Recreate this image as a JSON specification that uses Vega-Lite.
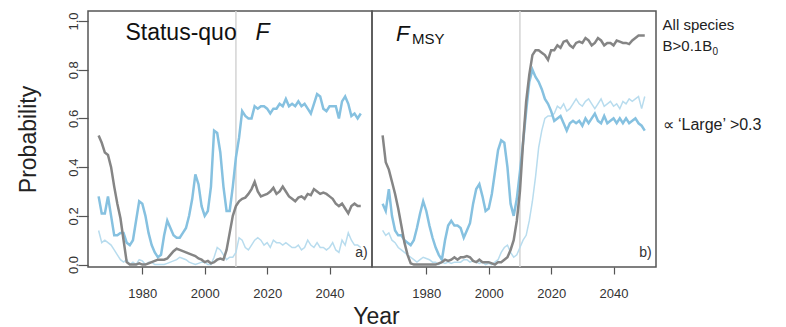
{
  "$schema": "https://vega.github.io/schema/vega-lite/v6.json",
  "background": "white",
  "padding": {"left": 16, "top": 9, "right": 0, "bottom": 0},
  "spacing": 0,
  "bounds": "flush",
  "config": {
    "font": "Liberation Sans",
    "view": {"stroke": "#555555", "strokeWidth": 1.5},
    "concat": {"spacing": 0},
    "axis": {"grid": false, "domain": false, "tickColor": "#555555", "tickWidth": 1.2, "labelFontSize": 13, "labelColor": "#333333", "labelFont": "Liberation Sans", "titleFont": "Liberation Sans", "titleFontWeight": "normal", "titleColor": "#222222"}
  },
  "datasets": {
    "d": [
      {"year":1966,"ag":0.53,"am":0.28,"al":0.14,"bg":0.53,"bm":0.25,"bl":0.14},
      {"year":1967,"ag":0.50,"am":0.21,"al":0.09,"bg":0.42,"bm":0.22,"bl":0.12},
      {"year":1968,"ag":0.46,"am":0.21,"al":0.10,"bg":0.39,"bm":0.31,"bl":0.13},
      {"year":1969,"ag":0.45,"am":0.28,"al":0.09,"bg":0.34,"bm":0.20,"bl":0.10},
      {"year":1970,"ag":0.40,"am":0.20,"al":0.08,"bg":0.29,"bm":0.14,"bl":0.09},
      {"year":1971,"ag":0.32,"am":0.12,"al":0.06,"bg":0.23,"bm":0.12,"bl":0.07},
      {"year":1972,"ag":0.25,"am":0.12,"al":0.04,"bg":0.16,"bm":0.12,"bl":0.06},
      {"year":1973,"ag":0.19,"am":0.13,"al":0.02,"bg":0.09,"bm":0.10,"bl":0.05},
      {"year":1974,"ag":0.10,"am":0.13,"al":0.01,"bg":0.04,"bm":0.09,"bl":0.04},
      {"year":1975,"ag":0.01,"am":0.09,"al":0.02,"bg":0.005,"bm":0.08,"bl":0.03},
      {"year":1976,"ag":0.0,"am":0.08,"al":0.0,"bg":0.0,"bm":0.10,"bl":0.02},
      {"year":1977,"ag":0.0,"am":0.10,"al":0.01,"bg":0.0,"bm":0.15,"bl":0.01},
      {"year":1978,"ag":0.0,"am":0.18,"al":0.0,"bg":0.0,"bm":0.21,"bl":0.02},
      {"year":1979,"ag":0.005,"am":0.26,"al":0.02,"bg":0.0,"bm":0.26,"bl":0.03},
      {"year":1980,"ag":0.0,"am":0.25,"al":0.015,"bg":0.0,"bm":0.22,"bl":0.025},
      {"year":1981,"ag":0.0,"am":0.20,"al":0.0,"bg":0.0,"bm":0.16,"bl":0.02},
      {"year":1982,"ag":0.005,"am":0.13,"al":0.01,"bg":0.0,"bm":0.11,"bl":0.01},
      {"year":1983,"ag":0.01,"am":0.08,"al":0.01,"bg":0.0,"bm":0.07,"bl":0.01},
      {"year":1984,"ag":0.015,"am":0.05,"al":0.0,"bg":0.005,"bm":0.04,"bl":0.0},
      {"year":1985,"ag":0.02,"am":0.03,"al":0.0,"bg":0.01,"bm":0.02,"bl":0.01},
      {"year":1986,"ag":0.02,"am":0.04,"al":0.0,"bg":0.02,"bm":0.10,"bl":0.005},
      {"year":1987,"ag":0.02,"am":0.12,"al":0.0,"bg":0.015,"bm":0.16,"bl":0.01},
      {"year":1988,"ag":0.025,"am":0.18,"al":0.005,"bg":0.02,"bm":0.18,"bl":0.005},
      {"year":1989,"ag":0.04,"am":0.15,"al":0.01,"bg":0.03,"bm":0.16,"bl":0.01},
      {"year":1990,"ag":0.055,"am":0.12,"al":0.015,"bg":0.02,"bm":0.16,"bl":0.01},
      {"year":1991,"ag":0.065,"am":0.11,"al":0.02,"bg":0.03,"bm":0.15,"bl":0.01},
      {"year":1992,"ag":0.06,"am":0.11,"al":0.03,"bg":0.03,"bm":0.11,"bl":0.02},
      {"year":1993,"ag":0.055,"am":0.13,"al":0.025,"bg":0.035,"bm":0.14,"bl":0.02},
      {"year":1994,"ag":0.05,"am":0.15,"al":0.02,"bg":0.03,"bm":0.17,"bl":0.01},
      {"year":1995,"ag":0.045,"am":0.20,"al":0.01,"bg":0.015,"bm":0.25,"bl":0.015},
      {"year":1996,"ag":0.04,"am":0.27,"al":0.005,"bg":0.01,"bm":0.31,"bl":0.01},
      {"year":1997,"ag":0.035,"am":0.37,"al":0.0,"bg":0.02,"bm":0.33,"bl":0.005},
      {"year":1998,"ag":0.025,"am":0.33,"al":0.005,"bg":0.01,"bm":0.28,"bl":0.01},
      {"year":1999,"ag":0.02,"am":0.24,"al":0.01,"bg":0.01,"bm":0.22,"bl":0.0},
      {"year":2000,"ag":0.01,"am":0.20,"al":0.01,"bg":0.01,"bm":0.23,"bl":0.005},
      {"year":2001,"ag":0.015,"am":0.22,"al":0.0,"bg":0.005,"bm":0.29,"bl":0.0},
      {"year":2002,"ag":0.005,"am":0.32,"al":0.0,"bg":0.0,"bm":0.38,"bl":0.01},
      {"year":2003,"ag":0.01,"am":0.55,"al":0.03,"bg":0.01,"bm":0.47,"bl":0.02},
      {"year":2004,"ag":0.02,"am":0.54,"al":0.07,"bg":0.01,"bm":0.51,"bl":0.05},
      {"year":2005,"ag":0.025,"am":0.46,"al":0.06,"bg":0.02,"bm":0.50,"bl":0.07},
      {"year":2006,"ag":0.02,"am":0.32,"al":0.04,"bg":0.03,"bm":0.40,"bl":0.08},
      {"year":2007,"ag":0.06,"am":0.22,"al":0.02,"bg":0.06,"bm":0.25,"bl":0.05},
      {"year":2008,"ag":0.13,"am":0.22,"al":0.03,"bg":0.10,"bm":0.20,"bl":0.03},
      {"year":2009,"ag":0.20,"am":0.32,"al":0.03,"bg":0.18,"bm":0.27,"bl":0.04},
      {"year":2010,"ag":0.24,"am":0.44,"al":0.05,"bg":0.30,"bm":0.38,"bl":0.07},
      {"year":2011,"ag":0.26,"am":0.52,"al":0.11,"bg":0.50,"bm":0.50,"bl":0.10},
      {"year":2012,"ag":0.27,"am":0.63,"al":0.10,"bg":0.67,"bm":0.63,"bl":0.12},
      {"year":2013,"ag":0.275,"am":0.61,"al":0.07,"bg":0.78,"bm":0.75,"bl":0.18},
      {"year":2014,"ag":0.29,"am":0.60,"al":0.06,"bg":0.86,"bm":0.80,"bl":0.26},
      {"year":2015,"ag":0.31,"am":0.60,"al":0.08,"bg":0.88,"bm":0.77,"bl":0.36},
      {"year":2016,"ag":0.34,"am":0.65,"al":0.10,"bg":0.88,"bm":0.75,"bl":0.48},
      {"year":2017,"ag":0.30,"am":0.64,"al":0.11,"bg":0.87,"bm":0.72,"bl":0.55},
      {"year":2018,"ag":0.28,"am":0.65,"al":0.10,"bg":0.86,"bm":0.68,"bl":0.60},
      {"year":2019,"ag":0.285,"am":0.65,"al":0.08,"bg":0.84,"bm":0.66,"bl":0.61},
      {"year":2020,"ag":0.29,"am":0.64,"al":0.09,"bg":0.88,"bm":0.63,"bl":0.61},
      {"year":2021,"ag":0.30,"am":0.62,"al":0.07,"bg":0.88,"bm":0.59,"bl":0.62},
      {"year":2022,"ag":0.315,"am":0.64,"al":0.10,"bg":0.90,"bm":0.60,"bl":0.65},
      {"year":2023,"ag":0.29,"am":0.64,"al":0.09,"bg":0.89,"bm":0.61,"bl":0.64},
      {"year":2024,"ag":0.30,"am":0.66,"al":0.09,"bg":0.915,"bm":0.58,"bl":0.66},
      {"year":2025,"ag":0.32,"am":0.65,"al":0.08,"bg":0.92,"bm":0.55,"bl":0.63},
      {"year":2026,"ag":0.30,"am":0.68,"al":0.09,"bg":0.90,"bm":0.58,"bl":0.64},
      {"year":2027,"ag":0.28,"am":0.65,"al":0.08,"bg":0.89,"bm":0.59,"bl":0.66},
      {"year":2028,"ag":0.27,"am":0.66,"al":0.07,"bg":0.91,"bm":0.58,"bl":0.68},
      {"year":2029,"ag":0.26,"am":0.65,"al":0.07,"bg":0.915,"bm":0.59,"bl":0.66},
      {"year":2030,"ag":0.275,"am":0.67,"al":0.08,"bg":0.91,"bm":0.57,"bl":0.65},
      {"year":2031,"ag":0.28,"am":0.65,"al":0.06,"bg":0.93,"bm":0.60,"bl":0.67},
      {"year":2032,"ag":0.27,"am":0.66,"al":0.07,"bg":0.92,"bm":0.58,"bl":0.68},
      {"year":2033,"ag":0.29,"am":0.64,"al":0.10,"bg":0.90,"bm":0.60,"bl":0.66},
      {"year":2034,"ag":0.285,"am":0.62,"al":0.08,"bg":0.91,"bm":0.62,"bl":0.64},
      {"year":2035,"ag":0.31,"am":0.66,"al":0.07,"bg":0.93,"bm":0.59,"bl":0.66},
      {"year":2036,"ag":0.30,"am":0.70,"al":0.09,"bg":0.92,"bm":0.58,"bl":0.68},
      {"year":2037,"ag":0.29,"am":0.69,"al":0.07,"bg":0.90,"bm":0.61,"bl":0.65},
      {"year":2038,"ag":0.295,"am":0.64,"al":0.07,"bg":0.91,"bm":0.58,"bl":0.66},
      {"year":2039,"ag":0.29,"am":0.63,"al":0.06,"bg":0.91,"bm":0.59,"bl":0.67},
      {"year":2040,"ag":0.28,"am":0.65,"al":0.07,"bg":0.90,"bm":0.60,"bl":0.65},
      {"year":2041,"ag":0.27,"am":0.65,"al":0.09,"bg":0.92,"bm":0.58,"bl":0.66},
      {"year":2042,"ag":0.25,"am":0.65,"al":0.06,"bg":0.915,"bm":0.60,"bl":0.64},
      {"year":2043,"ag":0.24,"am":0.60,"al":0.05,"bg":0.91,"bm":0.58,"bl":0.67},
      {"year":2044,"ag":0.25,"am":0.67,"al":0.10,"bg":0.91,"bm":0.60,"bl":0.66},
      {"year":2045,"ag":0.23,"am":0.69,"al":0.08,"bg":0.905,"bm":0.58,"bl":0.68},
      {"year":2046,"ag":0.21,"am":0.66,"al":0.13,"bg":0.92,"bm":0.59,"bl":0.67},
      {"year":2047,"ag":0.24,"am":0.61,"al":0.10,"bg":0.93,"bm":0.60,"bl":0.68},
      {"year":2048,"ag":0.25,"am":0.62,"al":0.08,"bg":0.94,"bm":0.58,"bl":0.69},
      {"year":2049,"ag":0.24,"am":0.60,"al":0.08,"bg":0.94,"bm":0.57,"bl":0.64},
      {"year":2050,"ag":0.24,"am":0.62,"al":0.07,"bg":0.94,"bm":0.55,"bl":0.69}
    ]
  },
  "hconcat": [
    {
      "width": 284,
      "height": 256,
      "data": {"name": "d"},
      "layer": [
        {"transform": [{"filter": "datum.year == 2010"}],
          "mark": {"type": "rule", "color": "#d4d4d4", "strokeWidth": 1.5},
          "encoding": {"x": {"field": "year", "type": "quantitative"}}},
        {"mark": {"type": "line", "color": "#b8dcee", "strokeWidth": 1.5},
          "encoding": {
            "x": {"field": "year", "type": "quantitative", "scale": {"domain": [1962.6, 2053.6], "nice": false, "zero": false},
              "axis": {"values": [1980, 2000, 2020, 2040], "format": "d", "title": "Year", "titleX": 288, "titleAlign": "center", "titleBaseline": "top", "titleFontSize": 23, "titlePadding": 5, "tickSize": 7, "labelPadding": 13, "labelFlush": false}},
            "y": {"field": "al", "type": "quantitative", "scale": {"domain": [-0.01, 1.041], "nice": false, "zero": false},
              "axis": {"values": [0, 0.2, 0.4, 0.6, 0.8, 1], "format": ".1f", "title": "Probability", "tickSize": 10, "labelAngle": 270, "labelAlign": "center", "labelBaseline": "alphabetic", "labelPadding": 1, "titleFontSize": 23, "titlePadding": 27}}}},
        {"mark": {"type": "line", "color": "#86c1e0", "strokeWidth": 2.5},
          "encoding": {"x": {"field": "year", "type": "quantitative"}, "y": {"field": "am", "type": "quantitative"}}},
        {"mark": {"type": "line", "color": "#858585", "strokeWidth": 2.5},
          "encoding": {"x": {"field": "year", "type": "quantitative"}, "y": {"field": "ag", "type": "quantitative"}}},
        {"transform": [{"filter": "datum.year == 2010"}],
          "mark": {"type": "text", "text": "Status-quo", "align": "left", "baseline": "alphabetic", "fontSize": 23, "color": "#111111"},
          "encoding": {"x": {"datum": 1974.6}, "y": {"datum": 0.921}}},
        {"transform": [{"filter": "datum.year == 2010"}],
          "mark": {"type": "text", "text": "F", "align": "left", "baseline": "alphabetic", "fontSize": 23, "fontStyle": "italic", "color": "#111111"},
          "encoding": {"x": {"datum": 2016.3}, "y": {"datum": 0.921}}},
        {"transform": [{"filter": "datum.year == 2010"}],
          "mark": {"type": "text", "text": "a)", "align": "right", "baseline": "alphabetic", "fontSize": 14, "color": "#333333"},
          "encoding": {"x": {"datum": 2052.2}, "y": {"datum": 0.031}}}
      ]
    },
    {
      "width": 284,
      "height": 256,
      "data": {"name": "d"},
      "layer": [
        {"transform": [{"filter": "datum.year == 2010"}],
          "mark": {"type": "rule", "color": "#d4d4d4", "strokeWidth": 1.5},
          "encoding": {"x": {"field": "year", "type": "quantitative"}}},
        {"mark": {"type": "line", "color": "#b8dcee", "strokeWidth": 1.5},
          "encoding": {
            "x": {"field": "year", "type": "quantitative", "scale": {"domain": [1962.6, 2053.6], "nice": false, "zero": false},
              "axis": {"values": [1980, 2000, 2020, 2040], "format": "d", "title": null, "tickSize": 7, "labelPadding": 13, "labelFlush": false}},
            "y": {"field": "bl", "type": "quantitative", "scale": {"domain": [-0.01, 1.041], "nice": false, "zero": false},
              "axis": {"title": null, "labels": false, "ticks": false, "domain": false, "values": []}}}},
        {"mark": {"type": "line", "color": "#86c1e0", "strokeWidth": 2.5},
          "encoding": {"x": {"field": "year", "type": "quantitative"}, "y": {"field": "bm", "type": "quantitative"}}},
        {"mark": {"type": "line", "color": "#858585", "strokeWidth": 2.5},
          "encoding": {"x": {"field": "year", "type": "quantitative"}, "y": {"field": "bg", "type": "quantitative"}}},
        {"transform": [{"filter": "datum.year == 2010"}],
          "mark": {"type": "text", "text": "F", "align": "left", "baseline": "alphabetic", "fontSize": 22, "fontStyle": "italic", "color": "#111111"},
          "encoding": {"x": {"datum": 1970.3}, "y": {"datum": 0.918}}},
        {"transform": [{"filter": "datum.year == 2010"}],
          "mark": {"type": "text", "text": "MSY", "align": "left", "baseline": "alphabetic", "fontSize": 15, "color": "#111111"},
          "encoding": {"x": {"datum": 1975.4}, "y": {"datum": 0.904}}},
        {"transform": [{"filter": "datum.year == 2010"}],
          "mark": {"type": "text", "text": "b)", "align": "right", "baseline": "alphabetic", "fontSize": 14, "color": "#333333"},
          "encoding": {"x": {"datum": 2052.2}, "y": {"datum": 0.031}}},
        {"transform": [{"filter": "datum.year == 2010"}],
          "mark": {"type": "text", "text": "All species", "align": "left", "baseline": "alphabetic", "fontSize": 15, "color": "#222222"},
          "encoding": {"x": {"datum": 2055.7}, "y": {"datum": 0.963}}},
        {"transform": [{"filter": "datum.year == 2010"}],
          "mark": {"type": "text", "text": "B>0.1B", "align": "left", "baseline": "alphabetic", "fontSize": 15, "color": "#222222"},
          "encoding": {"x": {"datum": 2055.7}, "y": {"datum": 0.877}}},
        {"transform": [{"filter": "datum.year == 2010"}],
          "mark": {"type": "text", "text": "0", "align": "left", "baseline": "alphabetic", "fontSize": 10, "color": "#222222"},
          "encoding": {"x": {"datum": 2071.7}, "y": {"datum": 0.861}}},
        {"transform": [{"filter": "datum.year == 2010"}],
          "mark": {"type": "text", "text": "∝ ‘Large’ >0.3", "align": "left", "baseline": "alphabetic", "fontSize": 16, "color": "#222222"},
          "encoding": {"x": {"datum": 2055.7}, "y": {"datum": 0.553}}}
      ]
    }
  ]
}
